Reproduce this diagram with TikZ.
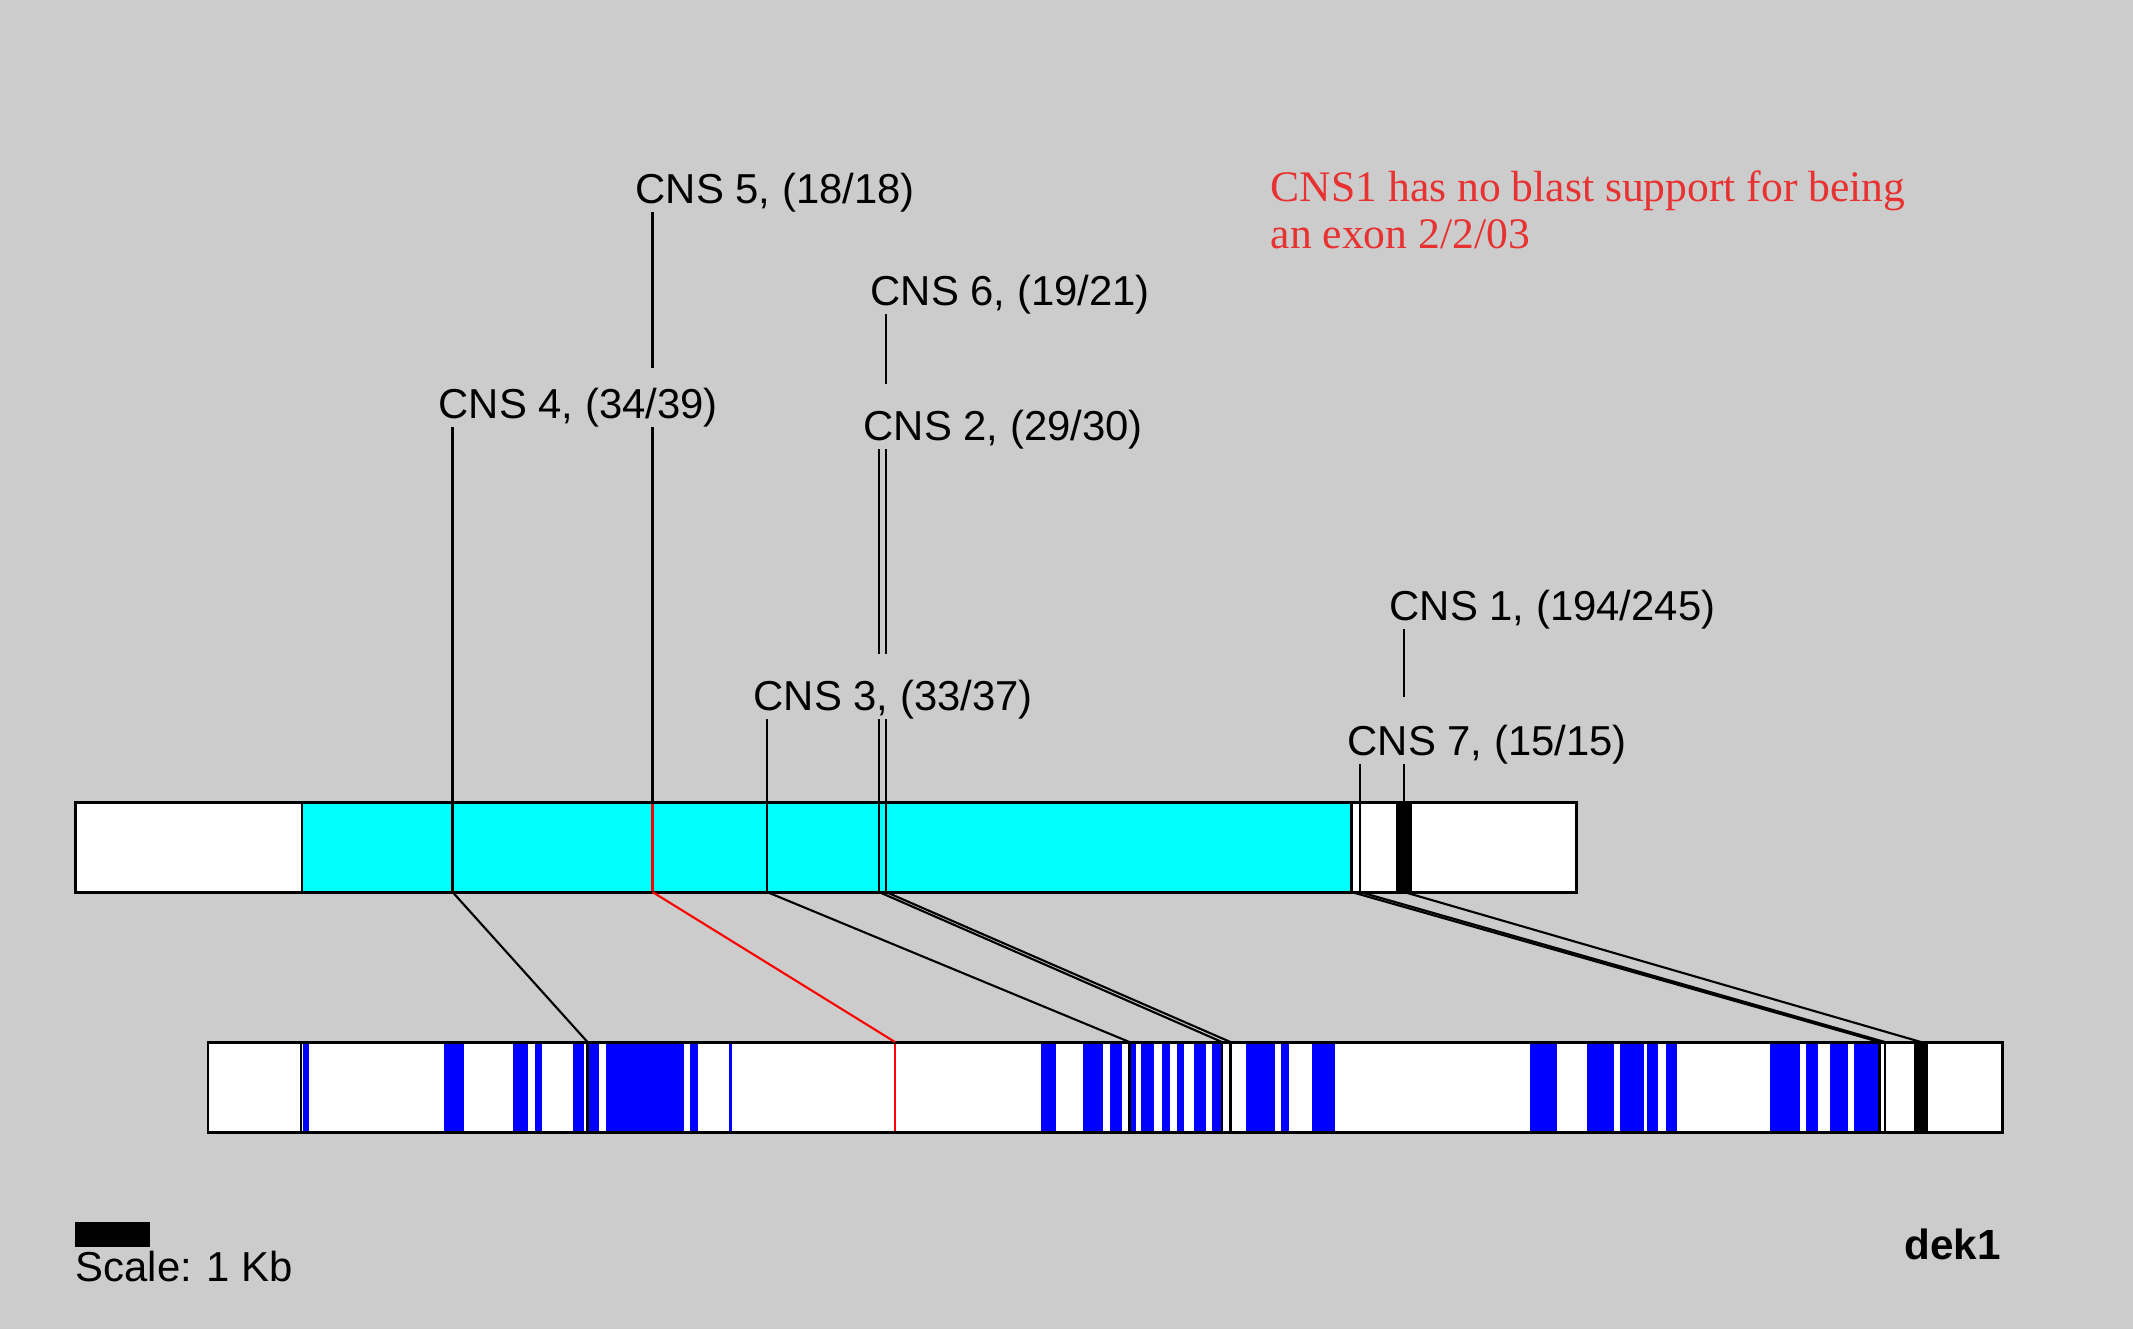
\documentclass[tikz,border=0pt]{standalone}
\usepackage{fontspec}
\setmainfont{Liberation Sans}
\newfontfamily\notefont{Liberation Serif}
\usepackage{xcolor}
\definecolor{page}{RGB}{204,204,204}
\definecolor{notered}{RGB}{232,50,50}
\definecolor{aqua}{RGB}{0,255,255}
\definecolor{exonblue}{RGB}{0,0,255}
\definecolor{hitred}{RGB}{255,0,0}

\begin{document}
\begin{tikzpicture}[x=0.01cm, y=-0.01cm,
  every node/.style={inner sep=0pt},
  lab/.style={anchor=base west, font=\fontsize{11.9}{14}\selectfont},
  note/.style={anchor=base west, text=notered, font=\notefont\fontsize{12.4}{14}\selectfont},
  bar/.style={draw, line width=0.85pt},
  hitline/.style={line width=0.6pt},
  conn/.style={line width=0.6pt},
  exon/.style={fill=exonblue}]
  \useasboundingbox (0,0) rectangle (2133,1329);
  \fill[page] (0,0) rectangle (2133,1329);
  \coordinate (tt) at (0,802);
  \coordinate (tb) at (0,892);
  \coordinate (bt) at (0,1042);
  \coordinate (bb) at (0,1132);
  \coordinate (m0) at (301.6,0);
  \coordinate (m4) at (452.5,0);
  \coordinate (m5) at (652.5,0);
  \coordinate (m3) at (767,0);
  \coordinate (m2a) at (879,0);
  \coordinate (m2b) at (886,0);
  \coordinate (m7a) at (1351.5,0);
  \coordinate (m7b) at (1360,0);
  \coordinate (m1) at (1404,0);
  \coordinate (n0) at (300.7,0);
  \coordinate (n4) at (587.5,0);
  \coordinate (n5) at (895,0);
  \coordinate (n3) at (1129.5,0);
  \coordinate (n2a) at (1222,0);
  \coordinate (n2b) at (1230.5,0);
  \coordinate (n7a) at (1879.5,0);
  \coordinate (n7b) at (1885,0);
  \coordinate (n1) at (1921,0);
  \fill[white] (75.8,802) rectangle (1576,892);
  \fill[aqua] (m0 |- tt) rectangle (m7a |- tb);
  \foreach \c in {m0,m4,m3,m2a,m2b,m7a,m7b}
    \draw[hitline] (\c |- tt) -- (\c |- tb);
  \draw[hitline, hitred] (m5 |- tt) -- (m5 |- tb);
  \fill (1396,802) rectangle (1412,892);
  \draw[bar] (75.8,802) rectangle (1576,892);
  \fill[white] (208,1042) rectangle (2002,1132);
  \foreach \a/\b in {302.5/309, 444/464.3, 513.2/527.5, 534.6/542, 573.2/584, 589.3/599.3,
      606.4/684, 690/698.2, 728.6/732, 1041/1055.7, 1083.3/1103.3, 1110/1121.7,
      1131/1136, 1140.7/1154.3, 1161.7/1170, 1176.7/1184.3, 1194.3/1206, 1212.3/1221,
      1245.7/1275, 1281/1289.3, 1311.7/1335, 1530/1556.7, 1587.3/1614, 1620/1644,
      1647.3/1658.3, 1665.7/1676.7, 1770/1800, 1806/1817.7, 1830/1847.7, 1854/1878.3}
    \fill[exon] (\a,1042) rectangle (\b,1132);
  \foreach \c in {n0,n4,n3,n2a,n2b,n7a,n7b}
    \draw[hitline] (\c |- bt) -- (\c |- bb);
  \draw[hitline, hitred] (n5 |- bt) -- (n5 |- bb);
  \fill (1914,1042) rectangle (1928,1132);
  \draw[bar] (208,1042) rectangle (2002,1132);
  \node[lab] (l5) at (635,203) {CNS 5, (18/18)};
  \node[lab] (l6) at (870,305) {CNS 6, (19/21)};
  \node[lab] (l4) at (438,418) {CNS 4, (34/39)};
  \node[lab] (l2) at (863,440) {CNS 2, (29/30)};
  \node[lab] (l3) at (753,710) {CNS 3, (33/37)};
  \node[lab] (l1) at (1389,620) {CNS 1, (194/245)};
  \node[lab] (l7) at (1347,755) {CNS 7, (15/15)};
  \draw[conn] (l5.south -| m5) -- ++(0,156);
  \draw[conn] (l4.south -| m5) -- (m5 |- tt);
  \draw[conn] (l4.south -| m4) -- (m4 |- tt);
  \draw[conn] (l6.south -| m2b) -- ++(0,70);
  \draw[conn] (l2.south -| m2a) -- ++(0,205);
  \draw[conn] (l2.south -| m2b) -- ++(0,205);
  \draw[conn] (l3.south -| m3) -- (m3 |- tt);
  \draw[conn] (l3.south -| m2a) -- (m2a |- tt);
  \draw[conn] (l3.south -| m2b) -- (m2b |- tt);
  \draw[conn] (l1.south -| m1) -- ++(0,68);
  \draw[conn] (l7.south -| m7b) -- (m7b |- tt);
  \draw[conn] (l7.south -| m1) -- (m1 |- tt);
  \foreach \a/\b in {m4/n4, m3/n3, m2a/n2a, m2b/n2b, m7a/n7a, m7b/n7b, m1/n1}
    \draw[conn] (\a |- tb) -- (\b |- bt);
  \draw[conn, hitred] (m5 |- tb) -- (n5 |- bt);
  \node[note] (note1) at (1270,201.7) {CNS1 has no blast support for being};
  \node[note] (note2) at (1270,248.3) {an exon 2/2/03};
  \fill (75,1221.6) rectangle (150,1247.4);
  \node[lab] (scale) at (75,1281) {Scale:\hspace{0.35em}1 Kb};
  \node[anchor=base west, font=\bfseries\fontsize{12}{14}\selectfont] (gene) at (1904,1259.6) {dek1};
\end{tikzpicture}
\end{document}
